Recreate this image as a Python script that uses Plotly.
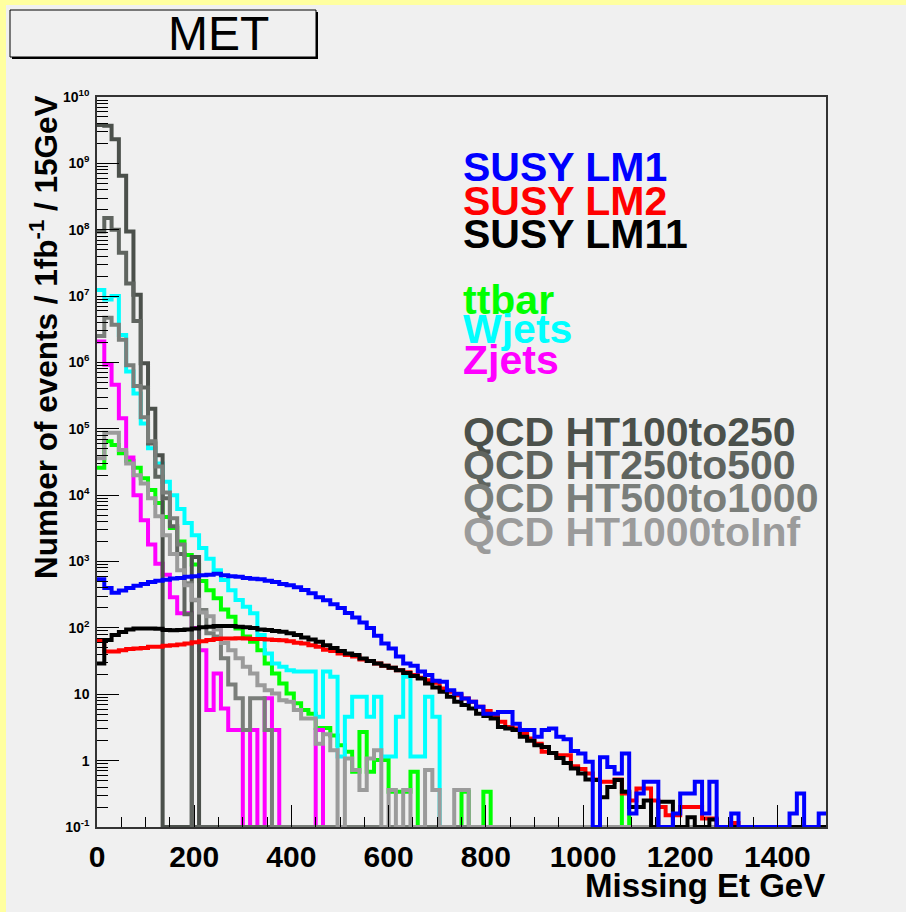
import plotly.graph_objects as go

# Missing transverse energy, events per 1 fb^-1 in 15 GeV bins (0-1500 GeV, 100 bins)
bin_width = 15
n_bins = 100

lm1 = [540, 400, 340, 365, 400, 430, 460, 490, 515, 530, 555, 565, 590, 600, 620, 630, 655, 620, 600, 590,
       565, 550, 540, 515, 490, 460, 440, 410, 372, 333, 290, 262, 228, 200, 168, 144, 121, 100, 76, 58,
       49, 37, 29, 27, 22, 19.5, 16, 15.5, 11.5, 10.2, 8.6, 7.7, 6.5, 5.1, 5.1, 5.4, 5.4, 3.6, 2.9, 2.9,
       2.3, 2.9, 3.05, 2.3, 2.1, 1.4, 1.28, 0.96, 0, 1.12, 0.8, 0.64, 1.28, 0.16, 0.32, 0.48, 0.48, 0, 0, 0.16,
       0.32, 0.32, 0.48, 0.16, 0.48, 0, 0, 0.16, 0, 0, 0, 0, 0, 0, 0, 0.16, 0.32, 0, 0, 0.16]

lm2 = [64, 44, 44, 46, 48, 49, 50, 52, 52, 54, 55, 56, 58, 61, 63, 66, 68, 69, 69, 70,
       69, 68, 68, 67, 66, 65, 63, 60, 58, 55, 52, 47, 45, 41, 39, 37, 33.5, 31.6, 29, 27,
       25, 23, 21.4, 19.5, 17.8, 16.3, 14.9, 12.2, 10.9, 9.7, 8.6, 7.7, 6.5, 5.6, 4.8, 3.85, 3.2, 3.05, 2.6, 2.15,
       1.8, 1.36, 1.3, 1.21, 1.21, 0.82, 0.75, 0.64, 0.52, 0.48, 0.48, 0.52, 0.32, 0.25, 0.38, 0.38, 0.25, 0.2, 0.15, 0.15,
       0.2, 0.2, 0.2, 0.134, 0.134, 0, 0, 0.115, 0, 0, 0, 0, 0, 0, 0, 0, 0, 0, 0, 0]

lm11 = [29, 66, 78, 87, 95, 98, 98, 98, 97, 93, 92, 93, 95, 98, 102, 104, 107, 107, 107, 104,
        102, 100, 95, 93, 90, 87.6, 83, 78, 72, 67, 62, 55, 50, 45, 41, 39, 34.7, 31.6, 29, 27,
        25, 23, 21, 18.8, 17.3, 14.5, 12.6, 10.9, 9.2, 7.7, 6.9, 6.1, 5.1, 4.7, 4.3, 3.2, 3.05, 2.9, 2.3, 2.0,
        1.7, 1.6, 1.3, 1.1, 0.92, 0.76, 0.64, 0.52, 0.51, 0.28, 0.4, 0.51, 0.34, 0.2, 0.2, 0.25, 0, 0.24, 0.24, 0,
        0, 0.14, 0, 0, 0.13, 0, 0, 0, 0, 0, 0, 0, 0, 0, 0, 0, 0, 0, 0, 0]

ttbar = [26000, 65000, 57000, 43000, 33000, 26000, 18000, 12000, 7600, 4700, 3200, 2000, 1250, 900, 510, 370, 280, 190, 147, 98,
         74, 62, 46, 29, 20.6, 14.5, 10.3, 7.3, 5.8, 5.1, 3.1, 3.1, 2.4, 1.7, 1.36, 0.68, 2.7, 0.68, 1.02, 1.02,
         0.34, 0.34, 0.34, 0.68, 0, 0, 0, 0, 0, 0, 0.34, 0, 0, 0.34, 0, 0, 0, 0, 0, 0,
         0, 0, 0, 0, 0, 0, 0, 0, 0, 0, 0, 0, 0.34, 0, 0, 0, 0, 0, 0, 0,
         0, 0, 0, 0, 0, 0, 0, 0, 0, 0, 0, 0, 0, 0, 0, 0, 0, 0, 0, 0]

wjets = [1.23e7, 8.9e6, 1.0e7, 2.6e6, 7.3e5, 3.4e5, 1.2e5, 5.1e4, 3.0e4, 1.6e4, 1.0e4, 6200, 3800, 2500, 1600, 1100, 740, 525, 370, 263,
         209, 166, 78, 41, 29, 26, 23, 22, 22, 22, 4.6, 22, 18.4, 1.15, 4.6, 9.2, 9.2, 4.6, 9.2, 1.15,
         1.15, 4.6, 18.4, 1.15, 1.15, 9.2, 4.6, 0, 0, 0, 0, 0, 0, 0, 0, 0, 0, 0, 0, 0,
         0, 0, 0, 0, 0, 0, 0, 0, 0, 0, 0, 0, 0, 0, 0, 0, 0, 0, 0, 0,
         0, 0, 0, 0, 0, 0, 0, 0, 0, 0, 0, 0, 0, 0, 0, 0, 0, 0, 0, 0]

zjets = [2.07e6, 9.2e5, 4.6e5, 1.44e5, 3.7e4, 1.0e4, 4200, 1800, 930, 630, 290, 166, 166, 100, 46, 5.8, 20.6, 6.1, 2.9, 2.9,
         0, 2.9, 0, 8.7, 2.9, 0, 0, 0, 0, 0, 2.9, 0, 0, 0, 0, 0, 0, 0, 0, 0,
         0, 0, 0, 0, 0, 0, 0, 0, 0, 0, 0, 0, 0, 0, 0, 0, 0, 0, 0, 0,
         0, 0, 0, 0, 0, 0, 0, 0, 0, 0, 0, 0, 0, 0, 0, 0, 0, 0, 0, 0,
         0, 0, 0, 0, 0, 0, 0, 0, 0, 0, 0, 0, 0, 0, 0, 0, 0, 0, 0, 0]

qcd_100_250 = [3.8e9, 3.7e9, 2.3e9, 6.5e8, 9.4e7, 1.05e7, 9.7e5, 2.0e5, 4.0e4, 0, 0, 0, 0, 1170, 0, 0, 0, 0, 0, 0] + [0] * 80

qcd_250_500 = [9.4e7, 1.5e8, 1.0e8, 4.5e7, 1.55e7, 4.2e6, 4.2e5, 6.0e4, 1.9e4, 9000, 3400, 1300, 160, 0, 0, 0, 0, 0, 0, 0] + [0] * 80

qcd_500_1000 = [2.5e6, 4.7e6, 3.7e6, 2.2e6, 9.1e5, 4.4e5, 1.5e5, 6.5e4, 2.7e4, 1.1e4, 4500, 1800, 470, 262, 186, 83, 74, 35, 14, 8.7,
                2.9, 8.7, 8.7, 2.9, 0, 0, 0, 0, 0, 0] + [0] * 70

qcd_1000_inf = [36000, 87000, 87000, 48000, 30000, 20000, 15000, 9000, 4800, 2500, 1300, 740, 440, 265, 170, 150, 95, 59, 46, 35,
                26, 20.6, 13.7, 11.5, 10.3, 8.1, 7.7, 5.8, 4.3, 4.3, 1.8, 2.5, 1.44, 0, 1.08, 0.72, 0.36, 1.08, 1.44, 0,
                0.36, 0, 0.36, 0, 0, 0.72, 0.36, 0, 0, 0.36, 0.36] + [0] * 49

# name, values, colour (in drawing order, last on top)
samples = [
    ("ttbar", ttbar, "#00ff00"),
    ("Wjets", wjets, "#00ffff"),
    ("Zjets", zjets, "#ff00ff"),
    ("QCD HT100to250", qcd_100_250, "#4b504b"),
    ("QCD HT250to500", qcd_250_500, "#5f645f"),
    ("QCD HT500to1000", qcd_500_1000, "#7a7e7a"),
    ("QCD HT1000toInf", qcd_1000_inf, "#9b9b9b"),
    ("SUSY LM2", lm2, "#ff0000"),
    ("SUSY LM11", lm11, "#000000"),
    ("SUSY LM1", lm1, "#0000ff"),
]

legend_groups = [
    [("SUSY LM1", "#0000ff"), ("SUSY LM2", "#ff0000"), ("SUSY LM11", "#000000")],
    [("ttbar", "#00ff00"), ("Wjets", "#00ffff"), ("Zjets", "#ff00ff")],
    [("QCD HT100to250", "#4b504b"), ("QCD HT250to500", "#5f645f"),
     ("QCD HT500to1000", "#7a7e7a"), ("QCD HT1000toInf", "#9b9b9b")],
]

y_floor = 0.1  # empty bins sit on the bottom of the log frame
edges = [i * bin_width for i in range(n_bins + 1)]

fig = go.Figure()
for name, vals, col in samples:
    ys = [v if v > 0 else y_floor for v in vals]
    ys = ys + [ys[-1]]
    fig.add_trace(go.Scatter(x=edges, y=ys, mode="lines", name=name,
                             line=dict(color=col, width=4, shape="hv"),
                             showlegend=False, hoverinfo="skip"))

# page geometry (pixels)
W, H = 906, 912
L, R, T, B = 97, 826, 97, 827
bg = "#f0f0f0"


def fx(x):
    return (x - L) / (R - L)


def fy(y):
    return (B - y) / (B - T)


font_family = "Liberation Sans, Arial, Helvetica, sans-serif"

ytick_vals = [10.0 ** k for k in range(-1, 11)]
ytick_text = ["10<sup>-1</sup>", "1", "10"] + ["10<sup>%d</sup>" % k for k in range(2, 11)]

fig.update_layout(
    width=W, height=H,
    margin=dict(l=L, r=W - R, t=T, b=H - B, pad=0),
    paper_bgcolor=bg, plot_bgcolor=bg,
    showlegend=False,
    xaxis=dict(range=[0, 1500], tickvals=list(range(0, 1401, 200)),
               ticks="inside", ticklen=22, tickwidth=1, tickcolor="#000",
               minor=dict(ticks="inside", ticklen=10, dtick=50, tickcolor="#000", showgrid=False),
               showgrid=False, zeroline=False, showline=True, linecolor="#333", linewidth=1.5, mirror=True,
               tickfont=dict(family=font_family, size=30, color="#000", weight="bold"),
               ticklabelstandoff=2),
    yaxis=dict(type="log", range=[-1, 10], tickvals=ytick_vals, ticktext=ytick_text,
               ticks="inside", ticklen=22, tickwidth=1, tickcolor="#000",
               minor=dict(ticks="inside", ticklen=11, dtick="D1", tickcolor="#000", showgrid=False),
               showgrid=False, zeroline=False, showline=True, linecolor="#333", linewidth=1.5, mirror=True,
               tickfont=dict(family=font_family, size=14, color="#000", weight="bold"),
               ticklabelstandoff=3),
)

shapes = [
    # canvas frame strips
    dict(type="rect", xref="paper", yref="paper", x0=fx(0), x1=fx(6), y0=fy(H), y1=fy(0),
         fillcolor="#ffffa0", line=dict(width=0), layer="below"),
    dict(type="rect", xref="paper", yref="paper", x0=fx(0), x1=fx(W), y0=fy(5), y1=fy(0),
         fillcolor="#ffffa0", line=dict(width=0), layer="below"),
    # title box with shadow
    dict(type="rect", xref="paper", yref="paper", x0=fx(12), x1=fx(318), y0=fy(59), y1=fy(12),
         fillcolor="#000", line=dict(width=0)),
    dict(type="rect", xref="paper", yref="paper", x0=fx(10), x1=fx(316), y0=fy(57), y1=fy(10),
         fillcolor=bg, line=dict(color="#000", width=1)),
]

annotations = [
    dict(text="MET", x=fx(218), y=fy(34), xref="paper", yref="paper", showarrow=False,
         xanchor="center", yanchor="middle",
         font=dict(family=font_family, size=48, color="#000")),
    dict(text="Number of events / 1fb<sup>-1</sup> / 15GeV", x=fx(44), y=fy(337),
         xref="paper", yref="paper", showarrow=False, textangle=-90,
         xanchor="center", yanchor="middle",
         font=dict(family=font_family, size=31.5, color="#000", weight="bold")),
    dict(text="Missing Et GeV", x=fx(827), y=fy(885), xref="paper", yref="paper", showarrow=False,
         xanchor="right", yanchor="middle",
         font=dict(family=font_family, size=33, color="#000", weight="bold")),
]

legend_rows = [167, 201, 234, 300, 329, 360, 432, 465, 498, 532]
legend_items = [item for group in legend_groups for item in group]
for (label, col), yc in zip(legend_items, legend_rows):
    annotations.append(dict(text=label, x=fx(461), y=fy(yc), xref="paper", yref="paper",
                            showarrow=False, xanchor="left", yanchor="middle",
                            font=dict(family=font_family, size=41, color=col, weight="bold")))

fig.update_layout(shapes=shapes, annotations=annotations)
fig.write_html("out.html")
